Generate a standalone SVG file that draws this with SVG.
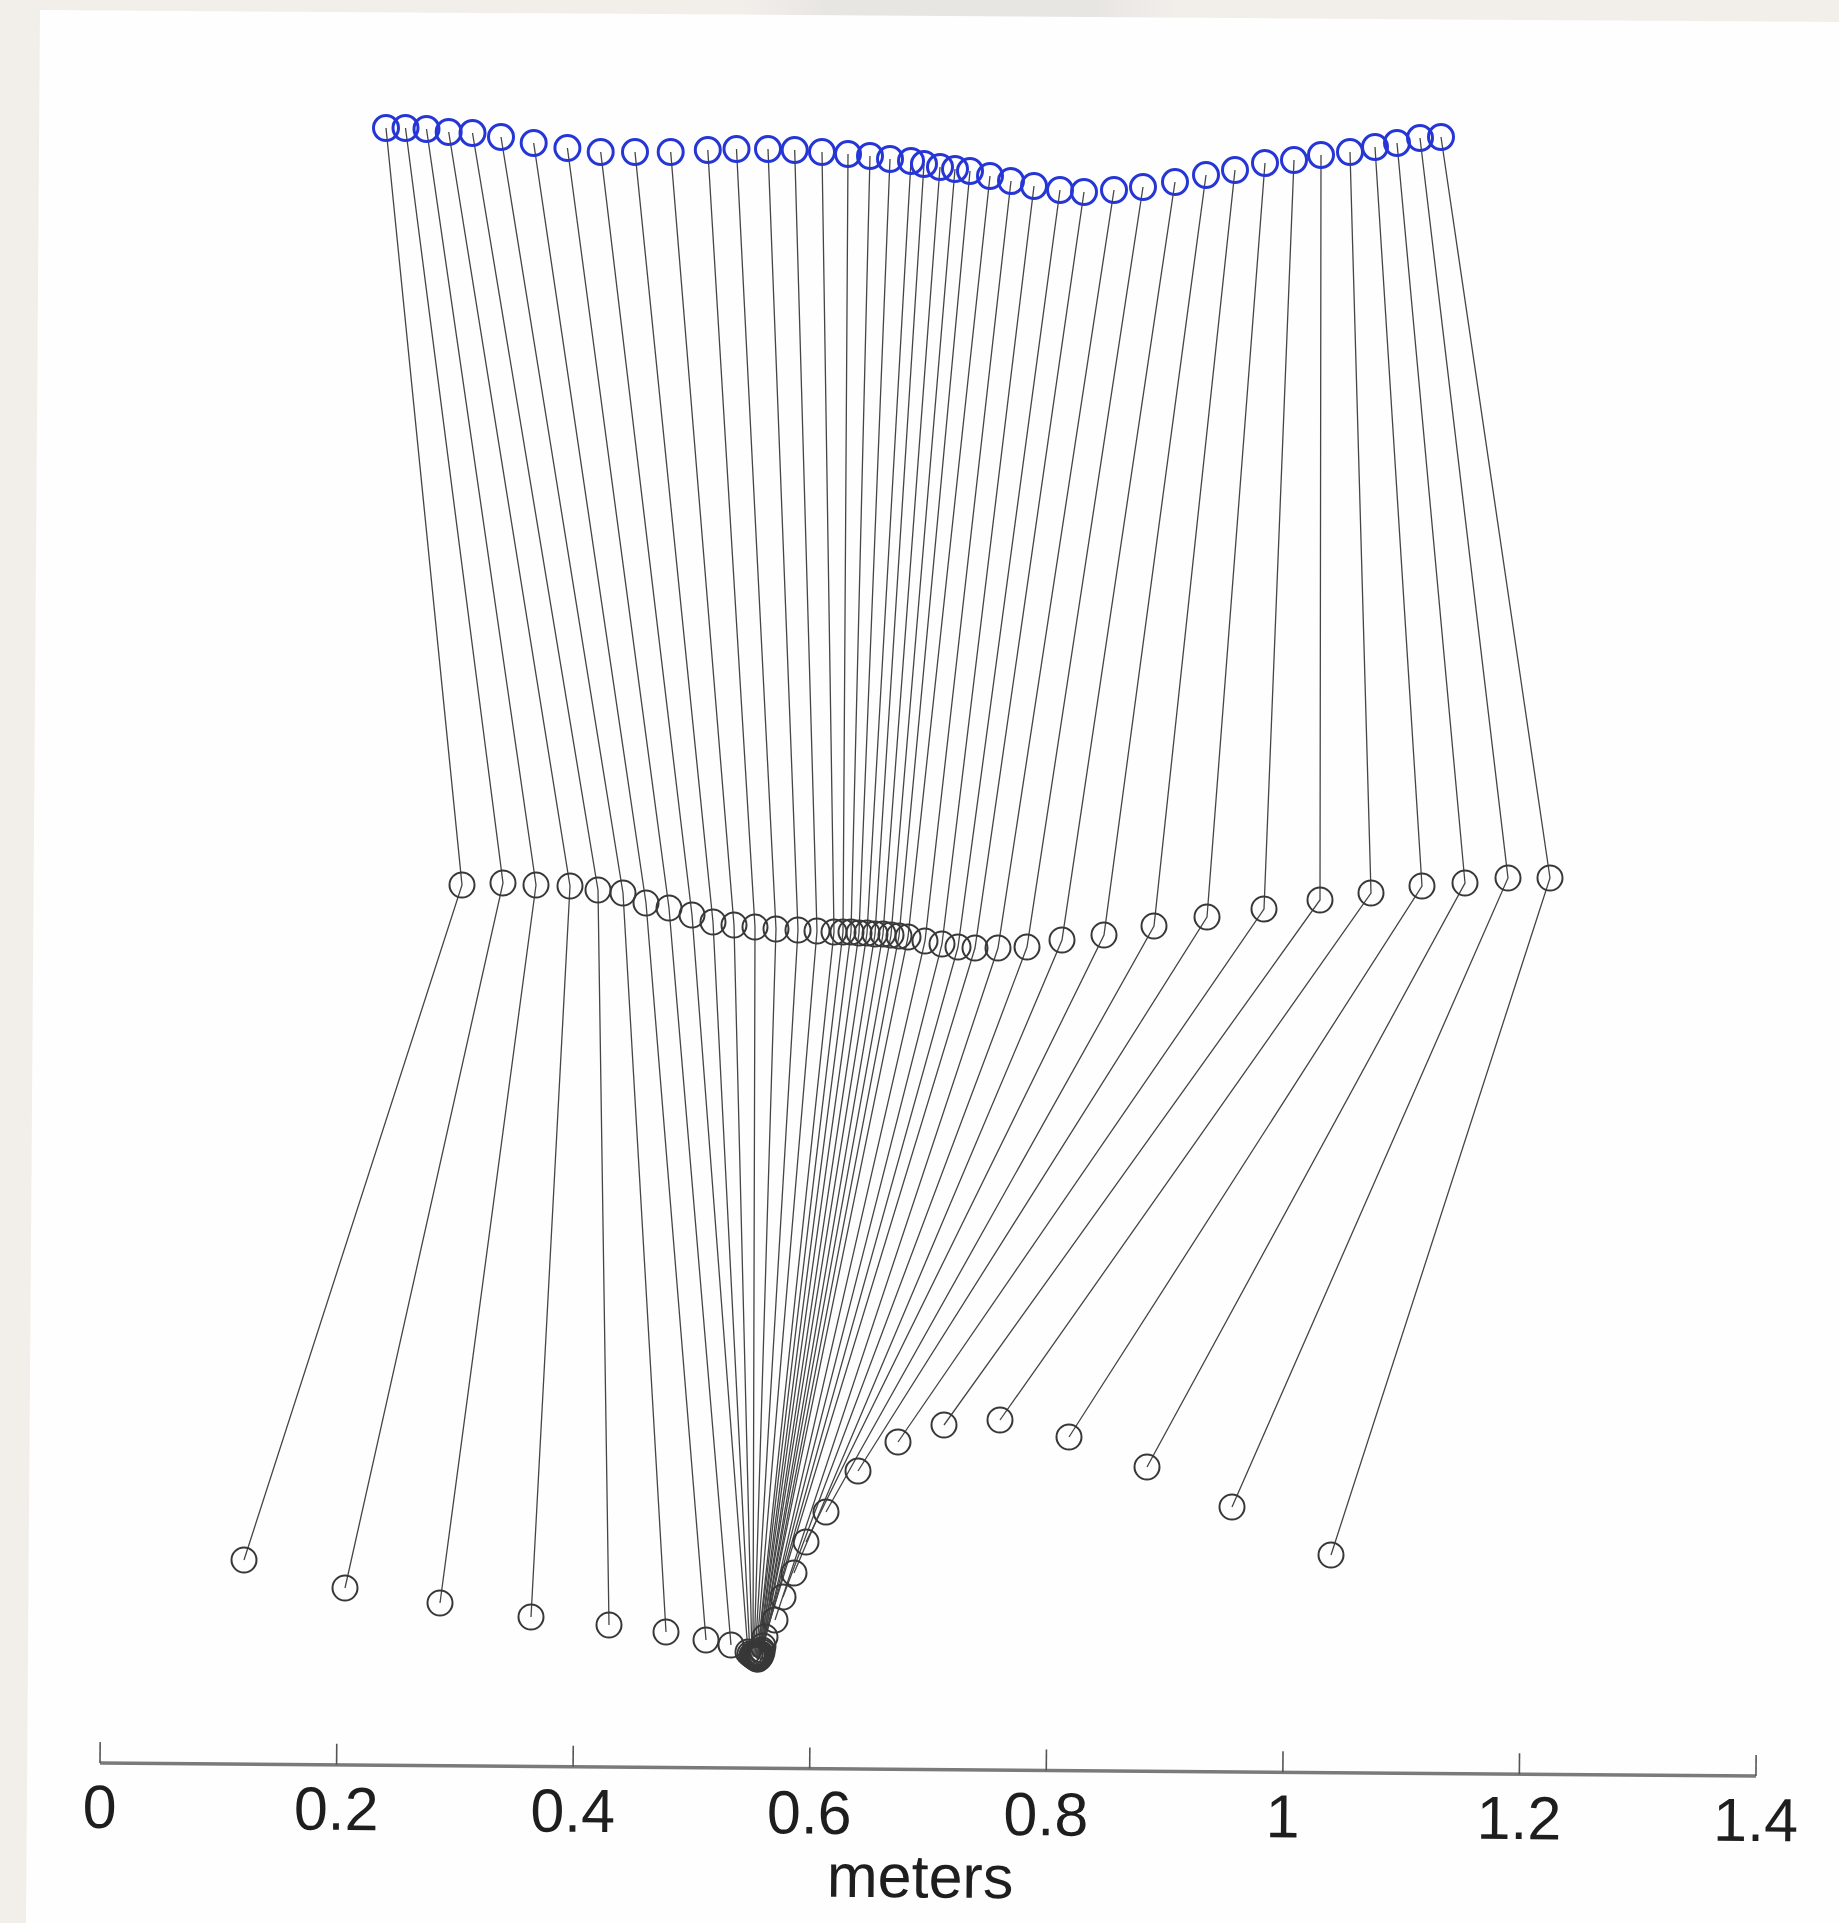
<svg xmlns="http://www.w3.org/2000/svg" width="1839" height="1923" viewBox="0 0 1839 1923">
<style>
.hip{fill:none;stroke:#2636d6;stroke-width:3}
.jt{fill:none;stroke:#383838;stroke-width:2}
.seg{fill:none;stroke:#454545;stroke-width:1.3}
.ax{stroke:#7a7a7a;stroke-width:3.5;fill:none}
.tk{stroke:#555;stroke-width:1.6}
.lbl{font-family:"Liberation Sans",Arial,sans-serif;font-size:61px;fill:#1e1e1e;text-anchor:middle}
</style>
<defs>
<linearGradient id="shade" x1="0" y1="0" x2="1" y2="0">
<stop offset="0" stop-color="#e8e6e3" stop-opacity="0"/>
<stop offset="0.2" stop-color="#e8e6e3" stop-opacity="1"/>
<stop offset="0.8" stop-color="#e8e6e3" stop-opacity="1"/>
<stop offset="1" stop-color="#e8e6e3" stop-opacity="0"/>
</linearGradient>
</defs>
<rect x="0" y="0" width="1839" height="1923" fill="#f2efeb"/>
<rect x="740" y="0" width="440" height="18" fill="url(#shade)"/>
<polygon points="40,10 1839,22 1839,1923 26,1923" fill="#fefefe"/>

<g id="connectors">
<path class="seg" d="M386,128L462,885L244,1560"/>
<path class="seg" d="M405.5,128L503,883L345,1588"/>
<path class="seg" d="M426.5,129L536,885L440,1603"/>
<path class="seg" d="M448.7,132L570,886L531,1617"/>
<path class="seg" d="M472.5,133L598,890L609,1625"/>
<path class="seg" d="M501,137L623,893L666,1632"/>
<path class="seg" d="M533.7,143L646,903L706,1640"/>
<path class="seg" d="M567.4,148L669,908L731,1645"/>
<path class="seg" d="M600.7,152L692,915L748,1652"/>
<path class="seg" d="M635,152L713,922L750,1654"/>
<path class="seg" d="M670.7,152L734,925L752,1655"/>
<path class="seg" d="M707.8,150L755,927L753,1656"/>
<path class="seg" d="M736.5,149L776,929L754,1657"/>
<path class="seg" d="M768,149L798,930L755,1657"/>
<path class="seg" d="M794.7,150L817,931L756,1658"/>
<path class="seg" d="M822,152L834,932L757,1658"/>
<path class="seg" d="M848,154L843,932L757,1659"/>
<path class="seg" d="M870,156L851,932L758,1658"/>
<path class="seg" d="M890,159L859,933L758,1659"/>
<path class="seg" d="M911,161L867,933L759,1658"/>
<path class="seg" d="M924,164L875,934L759,1657"/>
<path class="seg" d="M940,167L883,934L760,1657"/>
<path class="seg" d="M955,169L891,935L760,1656"/>
<path class="seg" d="M970,171L899,936L761,1655"/>
<path class="seg" d="M990,176L908,937L761,1654"/>
<path class="seg" d="M1011,181L925,941L762,1652"/>
<path class="seg" d="M1034,186L942,944L762,1650"/>
<path class="seg" d="M1060,190L958,947L763,1646"/>
<path class="seg" d="M1084,192L975,948L765,1637"/>
<path class="seg" d="M1114,190L998,948L775,1620"/>
<path class="seg" d="M1143,187L1027,947L783,1597"/>
<path class="seg" d="M1175,182L1062,940L794,1573"/>
<path class="seg" d="M1206,175L1104,935L806,1542"/>
<path class="seg" d="M1235,170L1154,926L826,1512"/>
<path class="seg" d="M1265,163L1207,917L858,1471"/>
<path class="seg" d="M1294,160L1264,909L898,1442"/>
<path class="seg" d="M1321,155L1320,900L944,1425"/>
<path class="seg" d="M1350,152L1371,893L1000,1420"/>
<path class="seg" d="M1375,147L1422,886L1069,1437"/>
<path class="seg" d="M1397,143L1465,883L1147,1467"/>
<path class="seg" d="M1420,138L1508,878L1232,1507"/>
<path class="seg" d="M1441,137L1550,878L1331,1555"/>
</g>

<g id="hip">
<circle class="hip" r="12.5" cx="386" cy="128"/>
<circle class="hip" r="12.5" cx="405.5" cy="128"/>
<circle class="hip" r="12.5" cx="426.5" cy="129"/>
<circle class="hip" r="12.5" cx="448.7" cy="132"/>
<circle class="hip" r="12.5" cx="472.5" cy="133"/>
<circle class="hip" r="12.5" cx="501" cy="137"/>
<circle class="hip" r="12.5" cx="533.7" cy="143"/>
<circle class="hip" r="12.5" cx="567.4" cy="148"/>
<circle class="hip" r="12.5" cx="600.7" cy="152"/>
<circle class="hip" r="12.5" cx="635" cy="152"/>
<circle class="hip" r="12.5" cx="670.7" cy="152"/>
<circle class="hip" r="12.5" cx="707.8" cy="150"/>
<circle class="hip" r="12.5" cx="736.5" cy="149"/>
<circle class="hip" r="12.5" cx="768" cy="149"/>
<circle class="hip" r="12.5" cx="794.7" cy="150"/>
<circle class="hip" r="12.5" cx="822" cy="152"/>
<circle class="hip" r="12.5" cx="848" cy="154"/>
<circle class="hip" r="12.5" cx="870" cy="156"/>
<circle class="hip" r="12.5" cx="890" cy="159"/>
<circle class="hip" r="12.5" cx="911" cy="161"/>
<circle class="hip" r="12.5" cx="924" cy="164"/>
<circle class="hip" r="12.5" cx="940" cy="167"/>
<circle class="hip" r="12.5" cx="955" cy="169"/>
<circle class="hip" r="12.5" cx="970" cy="171"/>
<circle class="hip" r="12.5" cx="990" cy="176"/>
<circle class="hip" r="12.5" cx="1011" cy="181"/>
<circle class="hip" r="12.5" cx="1034" cy="186"/>
<circle class="hip" r="12.5" cx="1060" cy="190"/>
<circle class="hip" r="12.5" cx="1084" cy="192"/>
<circle class="hip" r="12.5" cx="1114" cy="190"/>
<circle class="hip" r="12.5" cx="1143" cy="187"/>
<circle class="hip" r="12.5" cx="1175" cy="182"/>
<circle class="hip" r="12.5" cx="1206" cy="175"/>
<circle class="hip" r="12.5" cx="1235" cy="170"/>
<circle class="hip" r="12.5" cx="1265" cy="163"/>
<circle class="hip" r="12.5" cx="1294" cy="160"/>
<circle class="hip" r="12.5" cx="1321" cy="155"/>
<circle class="hip" r="12.5" cx="1350" cy="152"/>
<circle class="hip" r="12.5" cx="1375" cy="147"/>
<circle class="hip" r="12.5" cx="1397" cy="143"/>
<circle class="hip" r="12.5" cx="1420" cy="138"/>
<circle class="hip" r="12.5" cx="1441" cy="137"/>
</g>

<g id="knee">
<circle class="jt" r="12.5" cx="462" cy="885"/>
<circle class="jt" r="12.5" cx="503" cy="883"/>
<circle class="jt" r="12.5" cx="536" cy="885"/>
<circle class="jt" r="12.5" cx="570" cy="886"/>
<circle class="jt" r="12.5" cx="598" cy="890"/>
<circle class="jt" r="12.5" cx="623" cy="893"/>
<circle class="jt" r="12.5" cx="646" cy="903"/>
<circle class="jt" r="12.5" cx="669" cy="908"/>
<circle class="jt" r="12.5" cx="692" cy="915"/>
<circle class="jt" r="12.5" cx="713" cy="922"/>
<circle class="jt" r="12.5" cx="734" cy="925"/>
<circle class="jt" r="12.5" cx="755" cy="927"/>
<circle class="jt" r="12.5" cx="776" cy="929"/>
<circle class="jt" r="12.5" cx="798" cy="930"/>
<circle class="jt" r="12.5" cx="817" cy="931"/>
<circle class="jt" r="12.5" cx="834" cy="932"/>
<circle class="jt" r="12.5" cx="843" cy="932"/>
<circle class="jt" r="12.5" cx="851" cy="932"/>
<circle class="jt" r="12.5" cx="859" cy="933"/>
<circle class="jt" r="12.5" cx="867" cy="933"/>
<circle class="jt" r="12.5" cx="875" cy="934"/>
<circle class="jt" r="12.5" cx="883" cy="934"/>
<circle class="jt" r="12.5" cx="891" cy="935"/>
<circle class="jt" r="12.5" cx="899" cy="936"/>
<circle class="jt" r="12.5" cx="908" cy="937"/>
<circle class="jt" r="12.5" cx="925" cy="941"/>
<circle class="jt" r="12.5" cx="942" cy="944"/>
<circle class="jt" r="12.5" cx="958" cy="947"/>
<circle class="jt" r="12.5" cx="975" cy="948"/>
<circle class="jt" r="12.5" cx="998" cy="948"/>
<circle class="jt" r="12.5" cx="1027" cy="947"/>
<circle class="jt" r="12.5" cx="1062" cy="940"/>
<circle class="jt" r="12.5" cx="1104" cy="935"/>
<circle class="jt" r="12.5" cx="1154" cy="926"/>
<circle class="jt" r="12.5" cx="1207" cy="917"/>
<circle class="jt" r="12.5" cx="1264" cy="909"/>
<circle class="jt" r="12.5" cx="1320" cy="900"/>
<circle class="jt" r="12.5" cx="1371" cy="893"/>
<circle class="jt" r="12.5" cx="1422" cy="886"/>
<circle class="jt" r="12.5" cx="1465" cy="883"/>
<circle class="jt" r="12.5" cx="1508" cy="878"/>
<circle class="jt" r="12.5" cx="1550" cy="878"/>
</g>

<g id="ankle">
<circle class="jt" r="12.5" cx="244" cy="1560"/>
<circle class="jt" r="12.5" cx="345" cy="1588"/>
<circle class="jt" r="12.5" cx="440" cy="1603"/>
<circle class="jt" r="12.5" cx="531" cy="1617"/>
<circle class="jt" r="12.5" cx="609" cy="1625"/>
<circle class="jt" r="12.5" cx="666" cy="1632"/>
<circle class="jt" r="12.5" cx="706" cy="1640"/>
<circle class="jt" r="12.5" cx="731" cy="1645"/>
<circle class="jt" r="12.5" cx="748" cy="1652"/>
<circle class="jt" r="12.5" cx="750" cy="1654"/>
<circle class="jt" r="12.5" cx="752" cy="1655"/>
<circle class="jt" r="12.5" cx="753" cy="1656"/>
<circle class="jt" r="12.5" cx="754" cy="1657"/>
<circle class="jt" r="12.5" cx="755" cy="1657"/>
<circle class="jt" r="12.5" cx="756" cy="1658"/>
<circle class="jt" r="12.5" cx="757" cy="1658"/>
<circle class="jt" r="12.5" cx="757" cy="1659"/>
<circle class="jt" r="12.5" cx="758" cy="1658"/>
<circle class="jt" r="12.5" cx="758" cy="1659"/>
<circle class="jt" r="12.5" cx="759" cy="1658"/>
<circle class="jt" r="12.5" cx="759" cy="1657"/>
<circle class="jt" r="12.5" cx="760" cy="1657"/>
<circle class="jt" r="12.5" cx="760" cy="1656"/>
<circle class="jt" r="12.5" cx="761" cy="1655"/>
<circle class="jt" r="12.5" cx="761" cy="1654"/>
<circle class="jt" r="12.5" cx="762" cy="1652"/>
<circle class="jt" r="12.5" cx="762" cy="1650"/>
<circle class="jt" r="12.5" cx="763" cy="1646"/>
<circle class="jt" r="12.5" cx="765" cy="1637"/>
<circle class="jt" r="12.5" cx="775" cy="1620"/>
<circle class="jt" r="12.5" cx="783" cy="1597"/>
<circle class="jt" r="12.5" cx="794" cy="1573"/>
<circle class="jt" r="12.5" cx="806" cy="1542"/>
<circle class="jt" r="12.5" cx="826" cy="1512"/>
<circle class="jt" r="12.5" cx="858" cy="1471"/>
<circle class="jt" r="12.5" cx="898" cy="1442"/>
<circle class="jt" r="12.5" cx="944" cy="1425"/>
<circle class="jt" r="12.5" cx="1000" cy="1420"/>
<circle class="jt" r="12.5" cx="1069" cy="1437"/>
<circle class="jt" r="12.5" cx="1147" cy="1467"/>
<circle class="jt" r="12.5" cx="1232" cy="1507"/>
<circle class="jt" r="12.5" cx="1331" cy="1555"/>
</g>

<g id="axis" transform="rotate(0.45 100 1763)">
<line class="ax" x1="100" y1="1763" x2="1756" y2="1763"/>
<line class="tk" x1="100" y1="1742" x2="100" y2="1763"/>
<line class="tk" x1="336.6" y1="1742" x2="336.6" y2="1763"/>
<line class="tk" x1="573.1" y1="1742" x2="573.1" y2="1763"/>
<line class="tk" x1="809.7" y1="1742" x2="809.7" y2="1763"/>
<line class="tk" x1="1046.3" y1="1742" x2="1046.3" y2="1763"/>
<line class="tk" x1="1282.9" y1="1742" x2="1282.9" y2="1763"/>
<line class="tk" x1="1519.4" y1="1742" x2="1519.4" y2="1763"/>
<line class="tk" x1="1756" y1="1742" x2="1756" y2="1763"/>
<text class="lbl" x="100" y="1828">0</text>
<text class="lbl" x="336.6" y="1828">0.2</text>
<text class="lbl" x="573.1" y="1828">0.4</text>
<text class="lbl" x="809.7" y="1828">0.6</text>
<text class="lbl" x="1046.3" y="1828">0.8</text>
<text class="lbl" x="1282.9" y="1828">1</text>
<text class="lbl" x="1519.4" y="1828">1.2</text>
<text class="lbl" x="1756" y="1828">1.4</text>
<text class="lbl" x="921" y="1891">meters</text>
</g>
</svg>
